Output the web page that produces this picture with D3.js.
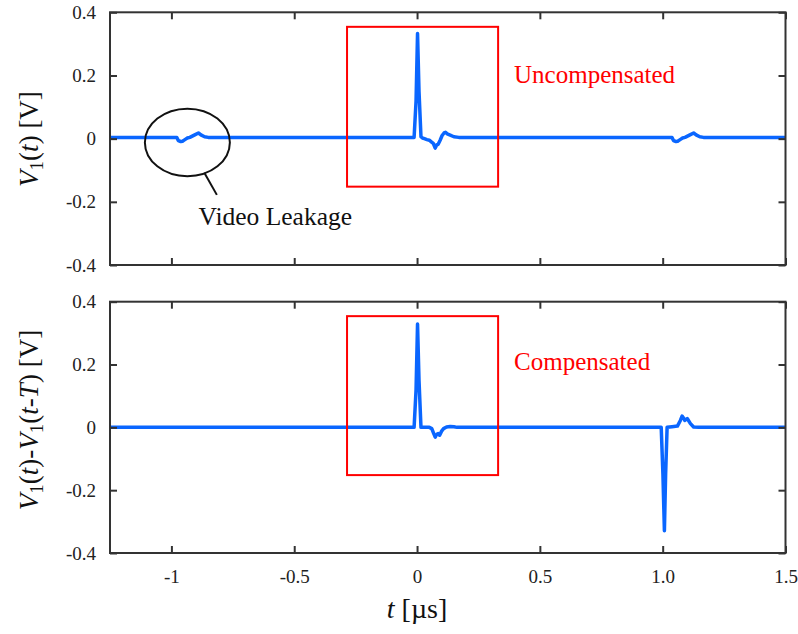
<!DOCTYPE html>
<html>
<head>
<meta charset="utf-8">
<script src="https://cdn.jsdelivr.net/npm/d3@7/dist/d3.min.js"></script>
<style>
  html, body { margin: 0; padding: 0; background: #fff; }
  svg { display: block; }
</style>
</head>
<body>
<svg id="chart" width="798" height="634" font-family="Liberation Serif, DejaVu Serif, serif"></svg>
<script>
// ---- data (time in µs, voltage in V) ----
const xTicks = [-1, -0.5, 0, 0.5, 1.0, 1.5];
const xTickLabels = ["-1", "-0.5", "0", "0.5", "1.0", "1.5"];
const yTicks = [0.4, 0.2, 0, -0.2, -0.4];
const yTickLabels = ["0.4", "0.2", "0", "-0.2", "-0.4"];

// uncompensated detector output V1(t)
const rawTime = [
  -1.25, -0.978, -0.972, -0.962, -0.955, -0.945, -0.935, -0.925, -0.905, -0.89, -0.88, -0.865, -0.85,
  -0.012, -0.004, 0.002, 0.008, 0.016, 0.022, 0.03, 0.04, 0.05, 0.058, 0.066, 0.074, 0.08, 0.086,
  0.094, 0.102, 0.11, 0.116, 0.125, 0.135, 0.15, 0.17,
  1.038, 1.044, 1.054, 1.061, 1.071, 1.081, 1.091, 1.111, 1.126, 1.136, 1.151, 1.166, 1.5
];
const rawValue = [
  0.004, 0.004, -0.006, -0.009, -0.008, -0.003, 0.002, 0.004, 0.012, 0.018, 0.012, 0.006, 0.004,
  0.004, 0.12, 0.333, 0.15, 0.006, 0.002, 0.0, -0.003, -0.005, -0.01, -0.015, -0.03, -0.02, -0.018,
  -0.005, 0.01, 0.018, 0.02, 0.014, 0.011, 0.006, 0.004,
  0.004, -0.006, -0.009, -0.008, -0.003, 0.002, 0.004, 0.012, 0.018, 0.012, 0.006, 0.004, 0.004
];

// compensated output V1(t) - V1(t-T)
const compTime = [
  -1.25, -0.012, -0.004, 0.002, 0.008, 0.016, 0.05, 0.06, 0.068, 0.074, 0.08, 0.086, 0.092,
  0.1, 0.108, 0.12, 0.135, 0.15, 0.163,
  0.994, 1.001, 1.007, 1.012, 1.018, 1.038, 1.06, 1.072, 1.079, 1.086, 1.09, 1.1, 1.113, 1.126, 1.147, 1.5
];
const compValue = [
  0, 0, 0.12, 0.329, 0.15, 0, 0, -0.004, -0.02, -0.031, -0.022, -0.02, -0.025,
  -0.012, -0.004, 0.001, 0.003, 0.002, 0,
  0, -0.15, -0.329, -0.15, 0, 0.002, 0.004, 0.022, 0.036, 0.028, 0.022, 0.028, 0.012, 0.001, 0, 0
];

// highlight window around the main pulse [t0, t1, v0, v1]
const boxWindow = [-0.285, 0.33, -0.152, 0.354];
// ellipse around the leakage: [t, v, half-width in t, half-height in V]
const leakEllipse = [-0.935, -0.012, 0.173, 0.107];
const leakPointer = [[-0.866, -0.108], [-0.815, -0.178]];
const leakLabelPos = [-0.577, -0.272];

const serif = "Liberation Serif, DejaVu Serif, serif";

const panels = [
  { top: 12.3, bottom: 265, time: rawTime, value: rawValue, note: "Uncompensated",
    label: [["V", "i"], ["1", "s"], ["(", ""], ["t", "i"], [") [V]", ""]], labelY: 139 },
  { top: 301.7, bottom: 553, time: compTime, value: compValue, note: "Compensated",
    label: [["V", "i"], ["1", "s"], ["(", ""], ["t", "i"], [")-", ""], ["V", "i"], ["1", "s"],
            ["(", ""], ["t", "i"], ["-", ""], ["T", "i"], [") [V]", ""]], labelY: 420 }
];

const svg = d3.select("#chart");
const left = 110, right = 785.5;
const x = d3.scaleLinear().domain([-1.25, 1.5]).range([left, right]);

const frameColor = "#333";
const lineColor = "#0a66ff";

panels.forEach((p, i) => {
  const y = d3.scaleLinear().domain([-0.4, 0.4]).range([p.bottom, p.top]);
  const g = svg.append("g");

  // data trace
  const line = d3.line().x((d, k) => x(p.time[k])).y((d, k) => y(p.value[k]));
  g.append("path")
    .attr("d", line(p.time))
    .attr("fill", "none")
    .attr("stroke", lineColor)
    .attr("stroke-width", 3.5)
    .attr("stroke-linejoin", "round");

  // highlight window
  g.append("rect")
    .attr("x", x(boxWindow[0]))
    .attr("y", y(boxWindow[3]))
    .attr("width", x(boxWindow[1]) - x(boxWindow[0]))
    .attr("height", y(boxWindow[2]) - y(boxWindow[3]))
    .attr("fill", "none")
    .attr("stroke", "#ff0000")
    .attr("stroke-width", 2);

  g.append("text")
    .attr("x", x(0.395))
    .attr("y", i === 0 ? 83 : 370)
    .attr("fill", "#ff0000")
    .attr("font-family", serif)
    .attr("font-size", 25)
    .text(p.note);

  // axes: ticks on all four sides, pointing inward
  const axB = d3.axisBottom(x).tickValues(xTicks).tickSize(-7).tickPadding(17)
    .tickFormat((d, k) => i === 1 ? xTickLabels[k] : "");
  const axT = d3.axisTop(x).tickValues(xTicks).tickSize(-7).tickFormat("");
  const axL = d3.axisLeft(y).tickValues(yTicks).tickSize(-7).tickPadding(14)
    .tickFormat((d, k) => yTickLabels[k]);
  const axR = d3.axisRight(y).tickValues(yTicks).tickSize(-7).tickFormat("");

  const axes = [
    g.append("g").attr("transform", `translate(0,${p.bottom})`).call(axB),
    g.append("g").attr("transform", `translate(0,${p.top})`).call(axT),
    g.append("g").attr("transform", `translate(${left},0)`).call(axL),
    g.append("g").attr("transform", `translate(${right},0)`).call(axR)
  ];
  axes.forEach(a => {
    a.attr("font-family", serif).attr("font-size", 19);
    a.select(".domain").remove();
    a.selectAll(".tick line").attr("stroke", frameColor).attr("stroke-width", 2);
    a.selectAll(".tick text").attr("fill", "#222");
  });

  g.append("rect")
    .attr("x", left).attr("y", p.top)
    .attr("width", right - left).attr("height", p.bottom - p.top)
    .attr("fill", "none")
    .attr("stroke", frameColor)
    .attr("stroke-width", 2);

  // rotated y-axis title with italic symbols and subscripts
  const t = g.append("text")
    .attr("transform", `translate(38,${p.labelY}) rotate(-90)`)
    .attr("text-anchor", "middle")
    .attr("font-family", serif)
    .attr("font-size", 27)
    .attr("fill", "#111");
  let shifted = false;
  p.label.forEach(([s, kind]) => {
    const ts = t.append("tspan").text(s);
    if (kind === "i") ts.attr("font-style", "italic");
    if (kind === "s") {
      ts.attr("font-size", 19).attr("dy", 5);
      shifted = true;
    } else if (shifted) {
      ts.attr("dy", -5);
      shifted = false;
    }
  });

  if (i === 0) {
    // leakage annotation
    const cx = x(leakEllipse[0]), cy = y(leakEllipse[1]);
    g.append("ellipse")
      .attr("cx", cx).attr("cy", cy)
      .attr("rx", x(leakEllipse[0] + leakEllipse[2]) - cx)
      .attr("ry", y(leakEllipse[1] - leakEllipse[3]) - cy)
      .attr("fill", "none")
      .attr("stroke", "#111")
      .attr("stroke-width", 2);
    g.append("line")
      .attr("x1", x(leakPointer[0][0])).attr("y1", y(leakPointer[0][1]))
      .attr("x2", x(leakPointer[1][0])).attr("y2", y(leakPointer[1][1]))
      .attr("stroke", "#111")
      .attr("stroke-width", 2);
    g.append("text")
      .attr("x", x(leakLabelPos[0])).attr("y", y(leakLabelPos[1]))
      .attr("text-anchor", "middle")
      .attr("font-family", serif)
      .attr("font-size", 25.5)
      .attr("fill", "#111")
      .text("Video Leakage");
  }
});

// x-axis title
const xt = svg.append("text")
  .attr("x", x(0)).attr("y", 618)
  .attr("text-anchor", "middle")
  .attr("font-family", serif)
  .attr("font-size", 28)
  .attr("fill", "#111");
xt.append("tspan").attr("font-style", "italic").text("t");
xt.append("tspan").text(" [µs]");
</script>
</body>
</html>
